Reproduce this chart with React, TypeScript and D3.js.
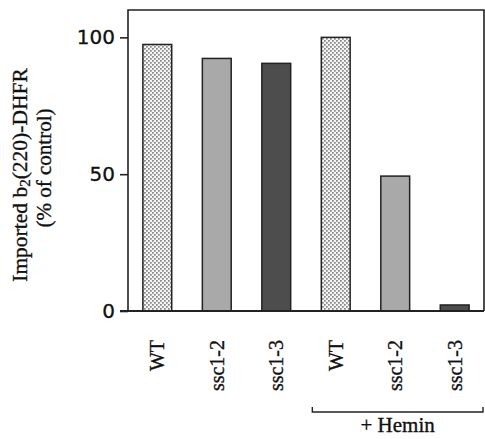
import React, { useEffect, useRef } from "react";
import * as d3 from "d3";

const categories = ["WT", "ssc1-2", "ssc1-3", "WT", "ssc1-2", "ssc1-3"];
const values = [97.4, 92.3, 90.5, 100, 49.3, 2.2];
const fills = ["dots", "mid", "dark", "dots", "mid", "dark"];
const yTicks = [0, 50, 100];
const groupLabel = "+ Hemin";

export default function App() {
  const svgRef = useRef<SVGSVGElement>(null);

  useEffect(() => {
    const width = 485;
    const height = 439;
    const margin = { top: 10, right: 1, bottom: 128, left: 128 };

    const svg = d3.select(svgRef.current).attr("width", width).attr("height", height);
    svg.selectAll("*").remove();

    const defs = svg.append("defs");
    const pat = defs
      .append("pattern")
      .attr("id", "dots")
      .attr("patternUnits", "userSpaceOnUse")
      .attr("width", 4)
      .attr("height", 4);
    pat.append("rect").attr("width", 4).attr("height", 4).attr("fill", "#f4f4f4");
    pat.append("rect").attr("x", 0).attr("y", 0).attr("width", 1.7).attr("height", 1.7).attr("fill", "#858585");
    pat.append("rect").attr("x", 2).attr("y", 2).attr("width", 1.7).attr("height", 1.7).attr("fill", "#858585");

    const colour = (f: string) =>
      f === "dots" ? "url(#dots)" : f === "mid" ? "#a9a9a9" : "#4d4d4d";

    const x = d3
      .scaleBand()
      .domain(categories.map((c, i) => i + ""))
      .range([margin.left, width - margin.right])
      .paddingInner(0.515)
      .paddingOuter(0.25);

    const y = d3
      .scaleLinear()
      .domain([0, 110])
      .range([height - margin.bottom, margin.top]);

    const y0 = y(0);

    // frame
    svg
      .append("path")
      .attr("d", `M${margin.left},${y0}V${margin.top}H${width - margin.right}V${y0}`)
      .attr("fill", "none")
      .attr("stroke", "#222")
      .attr("stroke-width", 1.6);

    // bars
    svg
      .selectAll("rect.bar")
      .data(values)
      .enter()
      .append("rect")
      .attr("class", "bar")
      .attr("x", (d, i) => x(i + "")!)
      .attr("width", x.bandwidth())
      .attr("y", (d) => y(d))
      .attr("height", (d) => y0 - y(d))
      .attr("fill", (d, i) => colour(fills[i]))
      .attr("stroke", "#222")
      .attr("stroke-width", 1.5);

    // y axis
    const yAxis = d3
      .axisLeft(y)
      .tickValues(yTicks)
      .tickSize(8)
      .tickPadding(5)
      .tickSizeOuter(0);
    const ya = svg.append("g").attr("transform", `translate(${margin.left},0)`).call(yAxis);
    ya.select(".domain").remove();
    ya.selectAll("line").attr("stroke", "#222").attr("stroke-width", 1.6);
    ya.selectAll("text")
      .attr("font-family", "DejaVu Sans")
      .attr("font-size", 20)
      .attr("fill", "#111")
      .attr("stroke", "#111")
      .attr("stroke-width", 0.3);

    // baseline
    svg
      .append("line")
      .attr("x1", margin.left - 8)
      .attr("x2", width - margin.right)
      .attr("y1", y0)
      .attr("y2", y0)
      .attr("stroke", "#222")
      .attr("stroke-width", 1.8);

    const serif = (sel: d3.Selection<SVGTextElement, any, any, any>, size: number) =>
      sel
        .attr("font-family", "Liberation Serif")
        .attr("font-size", size)
        .attr("fill", "#111")
        .attr("stroke", "#111")
        .attr("stroke-width", 0.35);

    // category labels
    svg
      .selectAll("text.cat")
      .data(categories)
      .enter()
      .append("text")
      .attr("class", "cat")
      .attr("transform", (d, i) => `translate(${x(i + "")! + x.bandwidth() / 2 + 7},${y0 + 29}) rotate(-90)`)
      .attr("text-anchor", "end")
      .call((s: any) => serif(s, 20))
      .text((d) => d);

    // bracket
    const bx1 = x("3")! - 9;
    const bx2 = width - 2;
    const by = 412;
    svg
      .append("path")
      .attr("d", `M${bx1},${by - 5}V${by}H${bx2}V${by - 5}`)
      .attr("fill", "none")
      .attr("stroke", "#222")
      .attr("stroke-width", 1.4);
    svg
      .append("text")
      .attr("x", (bx1 + bx2) / 2)
      .attr("y", 432)
      .attr("text-anchor", "middle")
      .call((s: any) => serif(s, 21))
      .text(groupLabel);

    // y title
    const title = svg
      .append("text")
      .attr("transform", `translate(27,175) rotate(-90)`)
      .attr("text-anchor", "middle")
      .call((s: any) => serif(s, 21.5));
    title.append("tspan").text("Imported b");
    title.append("tspan").attr("font-size", 15).attr("dy", 3).text("2");
    title.append("tspan").attr("dy", -3).text("(220)-DHFR");
    svg
      .append("text")
      .attr("transform", `translate(51,168) rotate(-90)`)
      .attr("text-anchor", "middle")
      .call((s: any) => serif(s, 21))
      .text("(% of control)");
  }, []);

  return (
    <div style={{ position: "absolute", left: 0, top: 0 }}>
      <svg ref={svgRef}></svg>
    </div>
  );
}
